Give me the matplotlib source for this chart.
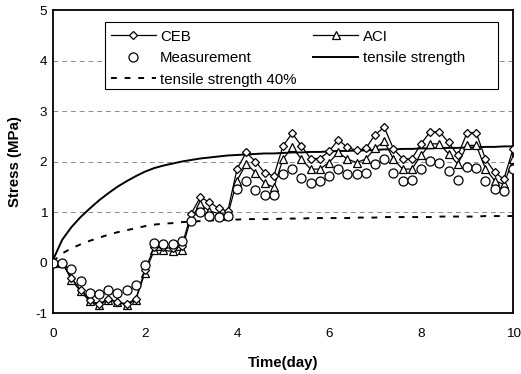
import matplotlib.pyplot as plt
import matplotlib.patches as mpatches
import numpy as np

plt.rcParams['font.family'] = ['Liberation Sans', 'DejaVu Sans']
plt.rcParams['axes.unicode_minus'] = False

# time in days, 0.2 day steps
time = [0.0, 0.2, 0.4, 0.6, 0.8, 1.0, 1.2, 1.4, 1.6, 1.8,
        2.0, 2.2, 2.4, 2.6, 2.8, 3.0, 3.2, 3.4, 3.6, 3.8,
        4.0, 4.2, 4.4, 4.6, 4.8, 5.0, 5.2, 5.4, 5.6, 5.8,
        6.0, 6.2, 6.4, 6.6, 6.8, 7.0, 7.2, 7.4, 7.6, 7.8,
        8.0, 8.2, 8.4, 8.6, 8.8, 9.0, 9.2, 9.4, 9.6, 9.8, 10.0]

ceb = [0.0, 0.0, -0.30, -0.55, -0.75, -0.82, -0.72, -0.78, -0.82, -0.72,
       -0.15, 0.30, 0.30, 0.28, 0.32, 0.96, 1.29, 1.20, 1.07, 1.02,
       1.85, 2.18, 2.00, 1.78, 1.71, 2.31, 2.56, 2.31, 2.06, 2.06,
       2.20, 2.43, 2.28, 2.22, 2.26, 2.53, 2.68, 2.25, 2.06, 2.05,
       2.35, 2.59, 2.59, 2.38, 2.12, 2.57, 2.57, 2.05, 1.79, 1.65, 2.25]

aci = [0.0, 0.0, -0.34, -0.57, -0.77, -0.84, -0.74, -0.79, -0.84, -0.74,
       -0.20, 0.24, 0.24, 0.22, 0.25, 0.88, 1.15, 1.02, 0.97, 0.95,
       1.62, 1.96, 1.78, 1.57, 1.49, 2.05, 2.28, 2.05, 1.85, 1.85,
       1.98, 2.18, 2.05, 1.98, 2.05, 2.26, 2.40, 2.05, 1.85, 1.85,
       2.12, 2.35, 2.35, 2.15, 1.95, 2.32, 2.32, 1.86, 1.62, 1.55, 2.05]

measured = [0.0, 0.0, -0.13, -0.37, -0.60, -0.63, -0.55, -0.60, -0.55, -0.44,
            -0.05, 0.38, 0.37, 0.36, 0.43, 0.82, 1.00, 0.92, 0.90, 0.92,
            1.45, 1.61, 1.44, 1.33, 1.33, 1.75, 1.86, 1.67, 1.57, 1.62,
            1.72, 1.85, 1.76, 1.76, 1.78, 1.95, 2.06, 1.78, 1.62, 1.63,
            1.86, 2.02, 1.97, 1.82, 1.64, 1.90, 1.88, 1.62, 1.45, 1.42, 1.85]

tensile = [0.05, 0.45, 0.70, 0.90, 1.07, 1.23, 1.37, 1.50, 1.61, 1.71,
           1.80, 1.87, 1.92, 1.96, 2.00, 2.03, 2.06, 2.08, 2.10, 2.12,
           2.13, 2.14, 2.15, 2.16, 2.16, 2.17, 2.18, 2.18, 2.19, 2.19,
           2.20, 2.21, 2.21, 2.22, 2.22, 2.23, 2.24, 2.24, 2.25, 2.25,
           2.26, 2.26, 2.27, 2.27, 2.27, 2.28, 2.28, 2.29, 2.29, 2.30, 2.30]

tensile40 = [0.02, 0.18, 0.28, 0.36, 0.43, 0.49, 0.55, 0.60, 0.64, 0.68,
             0.72, 0.75, 0.77, 0.78, 0.80, 0.81, 0.82, 0.83, 0.84, 0.85,
             0.85, 0.86, 0.86, 0.86, 0.86, 0.87, 0.87, 0.87, 0.88, 0.88,
             0.88, 0.88, 0.88, 0.89, 0.89, 0.89, 0.90, 0.90, 0.90, 0.90,
             0.90, 0.90, 0.91, 0.91, 0.91, 0.91, 0.91, 0.92, 0.92, 0.92, 0.92]

fig = plt.figure(figsize=(5.21, 3.74), dpi=100)
ax = fig.add_axes([0.1017, 0.1631, 0.883, 0.810])

for lvl in [1, 2, 3, 4]:
    ax.axhline(lvl, color='0.55', lw=0.7, ls=(0, (5, 4)), zorder=0)

ax.plot(time, tensile, color='black', lw=1.4, label='tensile strength', zorder=2)
ax.plot(time, tensile40, color='black', lw=1.4, ls=(0, (3, 4)),
        label='tensile strength 40%', zorder=2)
ax.plot(time, aci, color='black', lw=0.9, marker='^', ms=5.5, mfc='white',
        mec='black', mew=0.9, label='ACI', zorder=3)
ax.plot(time, ceb, color='black', lw=0.9, marker='D', ms=4.5, mfc='white',
        mec='black', mew=0.9, label='CEB', zorder=4)
ax.plot(time, measured, ls='none', marker='o', ms=6.5, mfc='white',
        mec='black', mew=0.9, label='Measurement', zorder=5)

ax.set_xlim(0, 10)
ax.set_ylim(-1, 5)
ax.set_xticks(np.arange(0, 11, 2))
ax.set_yticks(np.arange(-1, 6, 1))
ax.tick_params(axis='x', length=0, pad=11, labelsize=9.7)
ax.tick_params(axis='y', length=0, pad=4, labelsize=9.7)
for s in ax.spines.values():
    s.set_linewidth(1.3)

ax.set_xlabel('Time(day)', fontsize=10.8, fontweight='bold')
ax.set_ylabel('Stress (MPa)', fontsize=10.8, fontweight='bold')
ax.xaxis.set_label_coords(0.5, -0.143)
ax.yaxis.set_label_coords(-0.068, 0.5)

# legend box with a dark shadow like the original
box = mpatches.Rectangle((0.113, 0.739), 0.854, 0.221, transform=ax.transAxes,
                         facecolor='white', edgecolor='black', lw=0.8, zorder=6)
shadow = mpatches.Shadow(box, 2, -2, facecolor='black', edgecolor='black',
                         alpha=1, zorder=5.9)
ax.add_patch(shadow)
ax.add_patch(box)

h, l = ax.get_legend_handles_labels()
order = ['CEB', 'Measurement', 'tensile strength 40%', 'ACI', 'tensile strength']
hs = [h[l.index(n)] for n in order]
leg = ax.legend(hs, order, ncol=2, loc='upper left',
                bbox_to_anchor=(0.113, 0.955), frameon=False,
                fontsize=10.8, handlelength=3.0, labelspacing=0.5,
                borderaxespad=0, handletextpad=0.27, columnspacing=1.13)
leg.set_zorder(7)

fig.savefig('out.png', dpi=100)
